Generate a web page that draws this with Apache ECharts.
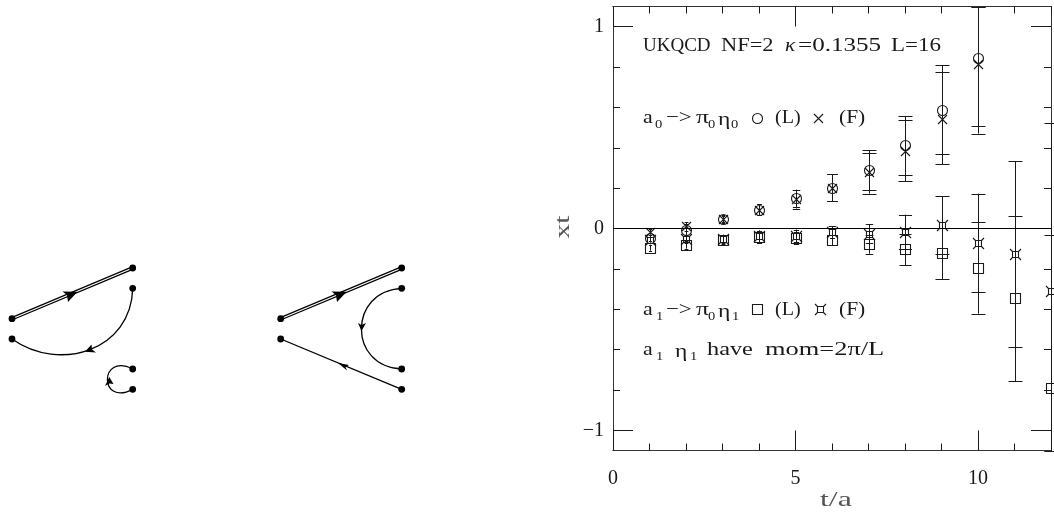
<!DOCTYPE html>
<html>
<head>
<meta charset="utf-8">
<style>
    html, body { margin: 0; padding: 0; background: #fff; }
    #chart { width: 1054px; height: 512px; }
</style>
<script src="https://cdn.jsdelivr.net/npm/echarts@6/dist/echarts.min.js"></script>
</head>
<body>
<div id="chart"></div>
<script>
    const tValues = [1, 2, 3, 4, 5, 6, 7, 8, 9, 10, 11, 12];

    const a0LocalVal = [-0.045, -0.008, 0.046, 0.094, 0.149, 0.203, 0.289, 0.413, 0.586, 0.847];
    const a0LocalHi = [-0.03, 0.02, 0.065, 0.12, 0.193, 0.27, 0.388, 0.558, 0.809, 1.1];
    const a0LocalLo = [-0.06, -0.035, 0.027, 0.068, 0.105, 0.135, 0.19, 0.267, 0.368, 0.508];

    const a0FuzzVal = [-0.015, 0.013, 0.046, 0.094, 0.147, 0.203, 0.28, 0.384, 0.545, 0.817];
    const a0FuzzHi = [0, 0.03, 0.06, 0.12, 0.19, 0.27, 0.376, 0.536, 0.776, 1.1];
    const a0FuzzLo = [-0.03, -0.01, 0.03, 0.068, 0.099, 0.135, 0.173, 0.234, 0.318, 0.47];

    const a1LocalVal = [-0.095, -0.08, -0.055, -0.041, -0.045, -0.058, -0.078, -0.104, -0.122, -0.196, -0.345, -0.792];
    const a1LocalHi = [-0.08, -0.06, -0.035, -0.01, -0.015, 0.012, -0.03, -0.026, 0.003, 0.031, 0.064, -0.033];
    const a1LocalLo = [-0.11, -0.1, -0.075, -0.07, -0.075, -0.083, -0.125, -0.182, -0.25, -0.422, -0.756, -1.1];

    const a1FuzzVal = [-0.055, -0.05, -0.05, -0.038, -0.035, -0.016, -0.025, -0.017, 0.017, -0.074, -0.125, -0.31];
    const a1FuzzHi = [-0.04, -0.03, -0.03, -0.01, -0.005, 0.012, 0.02, 0.069, 0.16, 0.173, 0.333, 0.525];
    const a1FuzzLo = [-0.07, -0.07, -0.07, -0.065, -0.065, -0.045, -0.071, -0.103, -0.126, -0.314, -0.587, -1.1];

    const xMajorTicks = [0, 5, 10];
    const xMinorTicks = [1, 2, 3, 4, 6, 7, 8, 9, 11, 12];
    const yMajorTicks = [-1, 0, 1];
    const yMinorTicks = [-0.8, -0.6, -0.4, -0.2, 0.2, 0.4, 0.6, 0.8];
    const zeroLine = [[0, 0], [12, 0]];

    const INK = '#1a1a1a';
    const FONT = '"Liberation Serif", serif';

    // marker shapes, used by the data series and by the text key
    function marker(kind, x, y) {
        const st = {fill: 'none', stroke: INK, lineWidth: 1.1};
        const seg = (a, b, c, d) => ({
            type: 'line',
            shape: {x1: x + a, y1: y + b, x2: x + c, y2: y + d},
            style: st
        });
        if (kind === 'circle') {
            return [{type: 'circle', shape: {cx: x, cy: y, r: 5}, style: st}];
        }
        if (kind === 'square') {
            return [{type: 'rect', shape: {x: x - 5, y: y - 5, width: 10, height: 10}, style: st}];
        }
        if (kind === 'cross') {
            return [seg(-4.5, -4.5, 4.5, 4.5), seg(-4.5, 4.5, 4.5, -4.5)];
        }
        // square with the diagonals sticking out of its corners
        return [
            {type: 'rect', shape: {x: x - 3, y: y - 3, width: 6, height: 6}, style: st},
            seg(-5.5, -5.5, -3, -3), seg(5.5, -5.5, 3, -3),
            seg(-5.5, 5.5, -3, 3), seg(5.5, 5.5, 3, 3)
        ];
    }

    function errorSeries(name, kind, vals, his, los) {
        const data = vals.map((v, i) => [tValues[i], v, los[i], his[i]]);
        return {
            name: name,
            type: 'custom',
            clip: false,
            data: data,
            encode: {x: 0, y: 1},
            renderItem: function (params, api) {
                const c = api.coord([api.value(0), api.value(1)]);
                const top = api.coord([api.value(0), api.value(3)]);
                const bot = api.coord([api.value(0), api.value(2)]);
                const st = {stroke: INK, lineWidth: 1};
                const x = Math.round(c[0]) + 0.5;
                // short bars get short caps, as in the original plot
                const cap = Math.min(7, (bot[1] - top[1]) / 2 * 0.35 + 0.5);
                const hLine = (yy) => ({
                    type: 'line',
                    shape: {x1: x - cap, y1: Math.round(yy) + 0.5, x2: x + cap, y2: Math.round(yy) + 0.5},
                    style: st
                });
                return {
                    type: 'group',
                    children: [
                        {type: 'line', shape: {x1: x, y1: top[1], x2: x, y2: bot[1]}, style: st},
                        hLine(top[1]),
                        hLine(bot[1])
                    ].concat(marker(kind, x, Math.round(c[1]) + 0.5))
                };
            }
        };
    }

    // two stacked axes per side: one carries the long ticks, one the short
    function xAxisAt(pos, ticks, len, labels) {
        return {
            type: 'value', position: pos, min: 0, max: 12,
            splitLine: {show: false},
            axisLine: {onZero: false, lineStyle: {color: '#333', width: 1}},
            axisTick: {inside: true, length: len, customValues: ticks, lineStyle: {color: INK}},
            axisLabel: labels ? {
                customValues: labels, margin: 18, fontFamily: FONT, fontSize: 20, color: INK
            } : {show: false}
        };
    }

    function yAxisAt(pos, ticks, len, labels) {
        return {
            type: 'value', position: pos, min: -1.1, max: 1.1,
            splitLine: {show: false},
            axisLine: {onZero: false, lineStyle: {color: '#333', width: 1}},
            axisTick: {inside: true, length: len, customValues: ticks, lineStyle: {color: INK}},
            axisLabel: labels ? {
                customValues: labels, margin: 9, fontFamily: FONT, fontSize: 20, color: INK,
                formatter: (v) => String(v).replace('-', '\u2212')
            } : {show: false}
        };
    }

    function txt(text, x, y, size, scale, extra, fill) {
        return Object.assign({
            type: 'text', x: x, y: y, scaleX: scale,
            style: {text: text, font: size + 'px ' + FONT, fill: fill || INK, verticalAlign: 'middle'}
        }, extra || {});
    }

    const notes = [
        txt('UKQCD', 643, 46, 19, 1.0),
        txt('NF=2', 721, 46, 19, 1.18),
        txt('\u03ba', 785, 46, 19, 1.12, {style: {text: '\u03ba', font: 'italic 19px ' + FONT, fill: INK, verticalAlign: 'middle'}}),
        txt('=0.1355', 798, 46, 19, 1.32),
        txt('L=16', 891, 46, 19, 1.21),

        txt('a', 643, 118, 19, 1.15), txt('0', 655, 125, 13, 1.12),
        txt('\u2212>', 666, 118, 19, 1.2),
        txt('\u03c0', 696, 118, 19, 1.35), txt('0', 708, 125, 13, 1.12),
        txt('\u03b7', 718, 120, 19, 1.24), txt('0', 731, 125, 13, 1.12),
        txt('(L)', 775, 118, 19, 1.06), txt('(F)', 839, 118, 19, 1.13),

        txt('a', 643, 310, 19, 1.15), txt('1', 656, 317, 13, 1.12),
        txt('\u2212>', 666, 310, 19, 1.2),
        txt('\u03c0', 696, 310, 19, 1.35), txt('0', 708, 317, 13, 1.12),
        txt('\u03b7', 718, 312, 19, 1.24), txt('1', 732, 317, 13, 1.12),
        txt('(L)', 775, 310, 19, 1.06), txt('(F)', 839, 310, 19, 1.13),

        txt('a', 643, 350, 19, 1.15), txt('1', 656, 357, 13, 1.12),
        txt('\u03b7', 675, 352, 19, 1.24), txt('1', 690, 357, 13, 1.12),
        txt('have', 707, 350, 19, 1.28),
        txt('mom=2\u03c0/L', 765, 350, 19, 1.39),

        // axis titles, stretched to the width they have in the figure
        txt('t/a', 820, 500, 22, 1.45, null, '#555'),
        txt('xt', 563.5, 238.5, 21, 1.4, {rotation: Math.PI / 2}, '#555')
    ];

    const keyMarks = [].concat(
        marker('circle', 757.5, 118.5),
        marker('cross', 818.5, 118.5),
        marker('square', 757.5, 309.5),
        marker('star', 820.5, 309.5)
    );

    // quark-line sketches on the left of the figure
    const black = {stroke: '#000', lineWidth: 1.3, fill: 'none'};

    function dot(x, y) {
        return {type: 'circle', shape: {cx: x, cy: y, r: 3.4}, style: {fill: '#000'}};
    }

    function doubleLine(x1, y1, x2, y2) {
        return [
            {type: 'line', shape: {x1, y1, x2, y2}, style: {stroke: '#000', lineWidth: 3.6}},
            {type: 'line', shape: {x1, y1, x2, y2}, style: {stroke: '#fff', lineWidth: 1.1}}
        ];
    }

    function curve(p) {
        return {
            type: 'bezierCurve',
            shape: {x1: p[0], y1: p[1], cpx1: p[2], cpy1: p[3], cpx2: p[4], cpy2: p[5], x2: p[6], y2: p[7]},
            style: black
        };
    }

    function arrow(pts) {
        return {type: 'polygon', shape: {points: pts}, style: {fill: '#000'}};
    }

    const sketch = [
        ...doubleLine(12, 318.7, 132.7, 268),
        curve([132.7, 288.3, 131.5, 350, 60, 373, 12, 339]),
        curve([132.7, 369, 99, 352, 99, 407, 132.7, 389.3]),
        arrow([[77.5, 291.7], [62.5, 291.5], [67, 295], [68, 302]]),
        arrow([[85, 351.7], [96, 352.5], [92, 349.5], [91.5, 344.5]]),
        arrow([[109.3, 377], [105, 386], [109.3, 383.5], [113.5, 384]]),
        dot(12, 318.7), dot(12, 339), dot(132.7, 268), dot(132.7, 288.3), dot(132.7, 369), dot(132.7, 389.3),

        ...doubleLine(280.7, 318.7, 401.7, 268),
        curve([401.7, 288.3, 348, 291, 348, 367, 401.7, 369]),
        {type: 'line', shape: {x1: 280.7, y1: 339, x2: 401.7, y2: 389.3}, style: black},
        arrow([[346.7, 291.7], [331.5, 291.5], [336, 295], [337, 302]]),
        arrow([[361.5, 331], [358, 323], [361.5, 325], [366, 323]]),
        arrow([[338, 363], [347, 370.5], [345.5, 367], [349, 365]]),
        dot(280.7, 318.7), dot(280.7, 339), dot(401.7, 268), dot(401.7, 288.3), dot(401.7, 369), dot(401.7, 389.3)
    ];

    const chart = echarts.init(document.getElementById('chart'));
    chart.setOption({
        animation: false,
        backgroundColor: '#fff',
        grid: {left: 613, right: 3, top: 6.5, bottom: 61.5, outerBoundsMode: 'none'},
        xAxis: [
            xAxisAt('bottom', xMajorTicks, 20, xMajorTicks),
            xAxisAt('bottom', xMinorTicks, 7),
            xAxisAt('top', xMajorTicks, 20),
            xAxisAt('top', xMinorTicks, 7)
        ],
        yAxis: [
            yAxisAt('left', yMajorTicks, 20, yMajorTicks),
            yAxisAt('left', yMinorTicks, 7),
            yAxisAt('right', yMajorTicks, 20),
            yAxisAt('right', yMinorTicks, 7)
        ],
        series: [
            {
                type: 'line', data: zeroLine, symbol: 'none', silent: true,
                lineStyle: {color: '#000', width: 1}
            },
            errorSeries('a0 L', 'circle', a0LocalVal, a0LocalHi, a0LocalLo),
            errorSeries('a0 F', 'cross', a0FuzzVal, a0FuzzHi, a0FuzzLo),
            errorSeries('a1 L', 'square', a1LocalVal, a1LocalHi, a1LocalLo),
            errorSeries('a1 F', 'star', a1FuzzVal, a1FuzzHi, a1FuzzLo)
        ],
        graphic: {elements: notes.concat(keyMarks, sketch)}
    });
</script>
</body>
</html>
